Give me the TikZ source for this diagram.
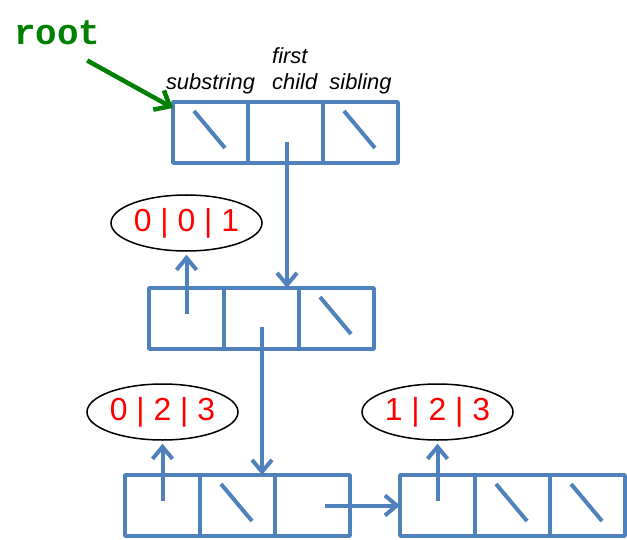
\documentclass[tikz,border=0pt]{standalone}
\usepackage{fontspec}
\setmainfont{Liberation Sans}
\newfontfamily\rootfont{Liberation Mono}
\usetikzlibrary{positioning,shapes.geometric,arrows.meta}
\definecolor{boxblue}{RGB}{79,129,189}
\definecolor{rootgreen}{RGB}{0,128,0}
\tikzset{
  cell/.style={draw=boxblue, line width=3.5bp, line join=round, minimum width=75bp, minimum height=61bp,
    inner sep=0pt, outer sep=0pt},
  ptr/.style={boxblue, line width=4bp, -{Straight Barb[length=12bp,width=20bp]}},
  nulline/.style={boxblue, line width=4bp},
  val/.style={ellipse, draw=black, line width=1.5bp, minimum width=151bp, minimum height=56bp,
    inner sep=0pt, text=red, font=\fontsize{32}{38}\selectfont},
  lbl/.style={font=\fontsize{22}{27}\selectfont\itshape, inner sep=0pt},
}
% slash for a null pointer inside a cell
\newcommand{\nullptr}[1]{\draw[nulline] ([shift={(-16.5,-21.5)}]#1.center) -- ([shift={(14.5,15.5)}]#1.center);}
\begin{document}
\begin{tikzpicture}[x=1bp,y=-1bp]
  \useasboundingbox (0,0) rectangle (627,540);
  \node[font=\rootfont\bfseries\fontsize{36}{40}\selectfont, text=rootgreen, anchor=base west, inner sep=0pt] (root) at (14,45) {root};

  % root node
  \node[cell] (r1) at (210.5,132.5) {};
  \node[cell, right=0pt of r1] (r2) {};
  \node[cell, right=0pt of r2] (r3) {};
  \node[lbl, anchor=base] (lsub) at ([yshift=12bp]r1.north) {substring};
  \node[lbl, anchor=base west, align=left] (lfc) at ([xshift=-13.5bp,yshift=12bp]r2.north) {first\\child};
  \node[lbl, anchor=base] (lsib) at ([yshift=12bp]r3.north) {sibling};

  % second level
  \node[cell] (a1) at (186.5,318.5) {};
  \node[cell, right=0pt of a1] (a2) {};
  \node[cell, right=0pt of a2] (a3) {};

  % third level
  \node[cell] (b1) at (162.5,505.5) {};
  \node[cell, right=0pt of b1] (b2) {};
  \node[cell, right=0pt of b2] (b3) {};
  \node[cell] (c1) at (437.5,505.5) {};
  \node[cell, right=0pt of c1] (c2) {};
  \node[cell, right=0pt of c2] (c3) {};

  % substrings
  \node[val] (v1) at (a1.center |- 0,223) {0 | 0 | 1};
  \node[val] (v2) at (b1.center |- 0,412) {0 | 2 | 3};
  \node[val] (v3) at (c1.center |- 0,412) {1 | 2 | 3};

  \nullptr{r1}
  \nullptr{r3}
  \nullptr{a3}
  \nullptr{b2}
  \nullptr{c2}
  \nullptr{c3}

  \draw[rootgreen, line width=4.5bp, -{Straight Barb[length=13bp,width=22bp]}]
    ([shift={(30,15)}]root.south) -- ([shift={(0,6)}]r1.north west);

  \coordinate (rc) at ([shift={(1.5,9.5)}]r2.center);
  \coordinate (ac) at ([shift={(0.5,8.5)}]a2.center);
  \draw[ptr] (rc) -- (rc |- a2.north);
  \draw[ptr] (ac) -- (ac |- b2.north);
  \draw[ptr] ([xshift=12.5bp]b3.center) -- (c1.west);
  \draw[ptr] ([yshift=5bp]a1.center) -- ([yshift=-3bp]v1.south);
  \draw[ptr] ([yshift=5bp]b1.center) -- ([yshift=-3bp]v2.south);
  \draw[ptr] ([yshift=5bp]c1.center) -- ([yshift=-3bp]v3.south);
\end{tikzpicture}
\end{document}
